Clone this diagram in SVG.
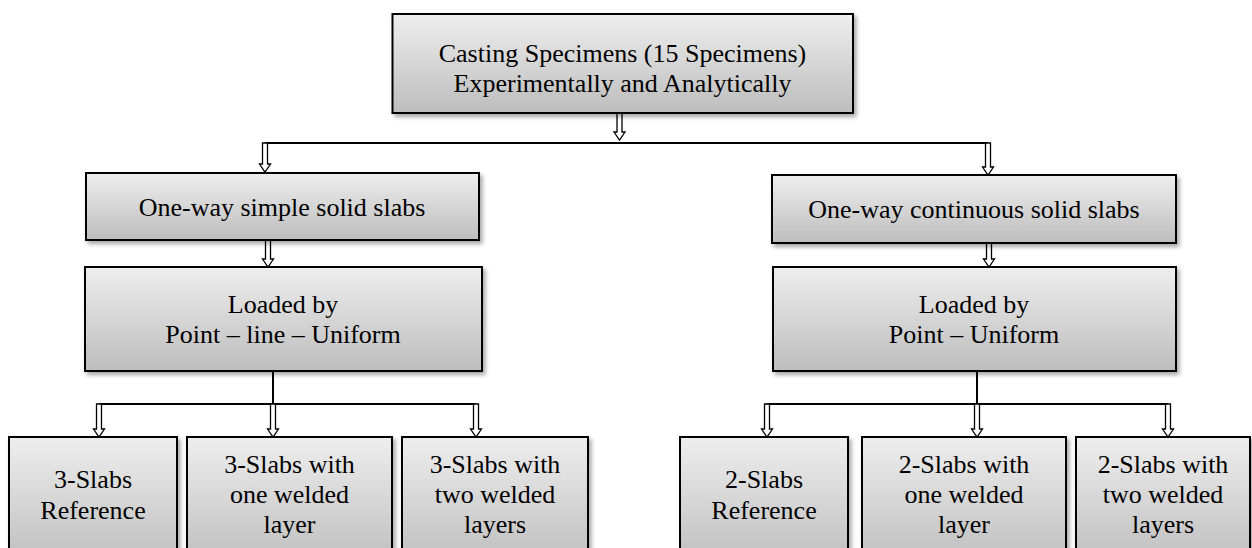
<svg xmlns="http://www.w3.org/2000/svg" width="1252" height="548" viewBox="0 0 1252 548" font-family="Liberation Serif, DejaVu Serif, serif">
<defs>
<linearGradient id="g" x1="0" y1="0" x2="0" y2="1">
<stop offset="0" stop-color="#eeeeee"/>
<stop offset="1" stop-color="#bdbdbd"/>
</linearGradient>
<filter id="sh" x="-10%" y="-10%" width="130%" height="140%">
<feDropShadow dx="2.5" dy="3" stdDeviation="2" flood-color="#000" flood-opacity="0.35"/>
</filter>
<style>
.box{fill:url(#g);stroke:#000;stroke-width:2;filter:url(#sh)}
.t{font-size:26px;fill:#000;text-anchor:middle}
.ln{stroke:#000;stroke-width:2;fill:none}
.ar{fill:#fff;stroke:#000;stroke-width:1.3;stroke-linejoin:miter}
</style>
</defs>
<rect width="1252" height="548" fill="#fff"/>

<g id="connectors">
<line class="ln" x1="265" y1="143" x2="988" y2="143"/>
<line class="ln" x1="273" y1="371" x2="273" y2="404"/>
<line class="ln" x1="99" y1="404" x2="476" y2="404"/>
<line class="ln" x1="977" y1="371" x2="977" y2="404"/>
<line class="ln" x1="767" y1="404" x2="1168" y2="404"/>
<path class="ar" d="M617,113 V132 H614 L619.5,140 L625,132 H622 V113 Z"/>
<path class="ar" d="M262.5,143 V164 H259.5 L265,172 L270.5,164 H267.5 V143 Z"/>
<path class="ar" d="M985.5,143 V167 H982.5 L988,175 L993.5,167 H990.5 V143 Z"/>
<path class="ar" d="M265.5,240 V259 H262.5 L268,267 L273.5,259 H270.5 V240 Z"/>
<path class="ar" d="M986.5,243 V259 H983.5 L989,267 L994.5,259 H991.5 V243 Z"/>
<path class="ar" d="M96.5,404 V429 H93.5 L99,437 L104.5,429 H101.5 V404 Z"/>
<path class="ar" d="M270.5,404 V429 H267.5 L273,437 L278.5,429 H275.5 V404 Z"/>
<path class="ar" d="M473.5,404 V429 H470.5 L476,437 L481.5,429 H478.5 V404 Z"/>
<path class="ar" d="M764.5,404 V429 H761.5 L767,437 L772.5,429 H769.5 V404 Z"/>
<path class="ar" d="M974.5,404 V429 H971.5 L977,437 L982.5,429 H979.5 V404 Z"/>
<path class="ar" d="M1165.5,404 V429 H1162.5 L1168,437 L1173.5,429 H1170.5 V404 Z"/>
</g>

<g id="top">
<rect class="box" x="392.5" y="14" width="460.5" height="99"/>
<text class="t" x="622.5" y="62">Casting Specimens (15 Specimens)</text>
<text class="t" x="622.5" y="92">Experimentally and Analytically</text>
</g>

<g id="simple">
<rect class="box" x="86" y="173" width="393" height="67"/>
<text class="t" x="282" y="216">One-way simple solid slabs</text>
</g>

<g id="continuous">
<rect class="box" x="772" y="175" width="404" height="68"/>
<text class="t" x="974" y="218">One-way continuous solid slabs</text>
</g>

<g id="loaded-left">
<rect class="box" x="85" y="267" width="397" height="104"/>
<text class="t" x="283" y="313">Loaded by</text>
<text class="t" x="283" y="343">Point – line – Uniform</text>
</g>

<g id="loaded-right">
<rect class="box" x="773" y="267" width="403" height="104"/>
<text class="t" x="974" y="313">Loaded by</text>
<text class="t" x="974" y="343">Point – Uniform</text>
</g>

<g id="b1">
<rect class="box" x="9" y="437" width="168" height="130"/>
<text class="t" x="93" y="488">3-Slabs</text>
<text class="t" x="93" y="519">Reference</text>
</g>
<g id="b2">
<rect class="box" x="187" y="437" width="205" height="130"/>
<text class="t" x="289.5" y="473">3-Slabs with</text>
<text class="t" x="289.5" y="503">one welded</text>
<text class="t" x="289.5" y="533">layer</text>
</g>
<g id="b3">
<rect class="box" x="402" y="437" width="186" height="130"/>
<text class="t" x="495" y="473">3-Slabs with</text>
<text class="t" x="495" y="503">two welded</text>
<text class="t" x="495" y="533">layers</text>
</g>
<g id="b4">
<rect class="box" x="680" y="437" width="168" height="130"/>
<text class="t" x="764" y="488">2-Slabs</text>
<text class="t" x="764" y="519">Reference</text>
</g>
<g id="b5">
<rect class="box" x="862" y="437" width="204" height="130"/>
<text class="t" x="964" y="473">2-Slabs with</text>
<text class="t" x="964" y="503">one welded</text>
<text class="t" x="964" y="533">layer</text>
</g>
<g id="b6">
<rect class="box" x="1076" y="437" width="174" height="130"/>
<text class="t" x="1163" y="473">2-Slabs with</text>
<text class="t" x="1163" y="503">two welded</text>
<text class="t" x="1163" y="533">layers</text>
</g>
</svg>
